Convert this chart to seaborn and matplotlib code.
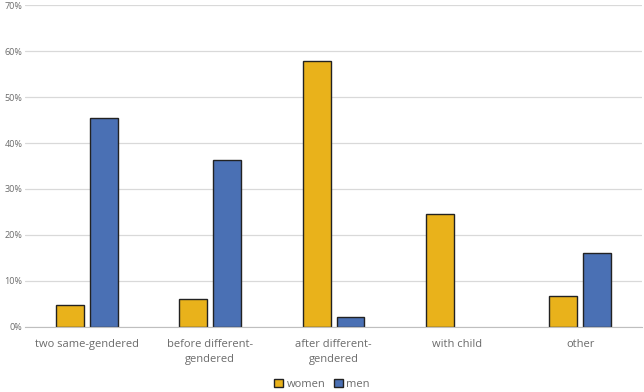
import pandas as pd
import numpy as np
import seaborn as sns
import matplotlib.pyplot as plt
from matplotlib.ticker import PercentFormatter

# datos
categorias = ['two same-gendered', 'before different-\ngendered', 'after different-\ngendered', 'with child', 'other']
women = [4.7, 6.1, 57.8, 24.6, 6.7]
men = [45.5, 36.3, 2.1, 0.0, 16.0]
grupos = ['women', 'men']
colores = ['#E9B21B', '#4A70B4']

df = pd.DataFrame({
    'categoria': categorias * 2,
    'valor': women + men,
    'grupo': ['women'] * len(categorias) + ['men'] * len(categorias),
})

sns.set_style('white')
plt.rcParams['font.family'] = ['Open Sans', 'DejaVu Sans']

fig = plt.figure(figsize=(6.44, 3.92), dpi=100)
ax = fig.add_axes([0.039, 0.166, 0.958, 0.821])

sns.barplot(data=df, x='categoria', y='valor', hue='grupo', hue_order=grupos,
            palette=colores, width=0.55, gap=0.18, edgecolor='#222222',
            linewidth=1.0, saturation=1, ax=ax, legend=True)

# barra con valor 0 no se dibuja
for cont in ax.containers:
    for p in cont:
        if p.get_height() == 0:
            p.set_linewidth(0)

ax.set_ylim(0, 70)
ax.set_xlim(-0.5, 4.5)
ax.set_yticks(np.arange(0, 71, 10))
ax.yaxis.set_major_formatter(PercentFormatter(decimals=0))
ax.grid(axis='y', color='#D9D9D9', linewidth=0.9)
ax.set_axisbelow(True)
for s in ['top', 'right', 'left']:
    ax.spines[s].set_visible(False)
ax.spines['bottom'].set_color('#BFBFBF')
ax.tick_params(axis='y', labelsize=6.5, labelcolor='#6B6B6B', length=0, pad=2)
ax.tick_params(axis='x', labelsize=8, labelcolor='#6B6B6B', length=0, pad=9)
for t in ax.get_xticklabels():
    t.set_linespacing(1.4)
ax.set_xlabel('')
ax.set_ylabel('')

handles, labels = ax.get_legend_handles_labels()
ax.get_legend().remove()
for h in handles:
    h.set_edgecolor('#222222')
    h.set_linewidth(1.0)
fig.legend(handles, labels, loc='lower center', bbox_to_anchor=(0.5, -0.02), ncol=2,
           frameon=False, fontsize=8, handlelength=0.8, handleheight=0.8,
           handletextpad=0.3, columnspacing=0.8, labelcolor='#6B6B6B')

fig.savefig('out.png', dpi=100)
